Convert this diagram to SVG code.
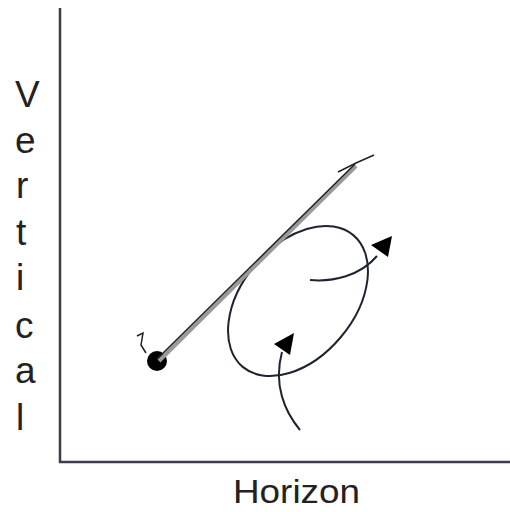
<svg xmlns="http://www.w3.org/2000/svg" width="510" height="512" viewBox="0 0 510 512">
<style>
.lbl{font-family:"Liberation Sans",Arial,sans-serif;fill:#222}
.ax{stroke:#3a3f48;stroke-width:2.5;fill:none}
.cv{stroke:#1e2530;stroke-width:2;fill:none}
</style>
<rect width="510" height="512" fill="#fff"/>
<g id="axes">
<path class="ax" d="M60,8 L60,462 L510,462"/>
</g>
<g id="vertical-label" class="lbl" font-size="37">
<text x="15" y="107">V</text>
<text x="15" y="153">e</text>
<text x="16" y="198">r</text>
<text x="16" y="245">t</text>
<text x="16" y="290">i</text>
<text x="15" y="338">c</text>
<text x="15" y="383">a</text>
<text x="16" y="430">l</text>
</g>
<g id="horizon-label">
<text class="lbl" x="233" y="503" font-size="33" textLength="127" lengthAdjust="spacingAndGlyphs">Horizon</text>
</g>
<g id="ellipse">
<ellipse cx="298" cy="301" rx="86" ry="56" transform="rotate(-50 298 301)" class="cv"/>
</g>
<g id="start-point">
<circle cx="157" cy="361" r="10" fill="#000"/>
<path d="M137,336 L143,333 L141,345 L146,353" fill="none" stroke="#222" stroke-width="1.5"/>
</g>
<g id="connectors">
<line x1="159" y1="361" x2="356" y2="166" stroke="#9a9a9a" stroke-width="4"/>
<line x1="157" y1="359" x2="355" y2="164" stroke="#222" stroke-width="1.5"/>
<path d="M338,172 L356,163 L374,155" fill="none" stroke="#222" stroke-width="1.5"/>
<path class="cv" d="M310,280 C333,282 360,276 377,256" />
<path d="M371,245 L392,236 L388,257 Z" fill="#000"/>
<path class="cv" d="M300,430 C285,412 273,385 282,352" />
<path d="M274,344 L294,333 L290,355 Z" fill="#000"/>
</g>
</svg>
